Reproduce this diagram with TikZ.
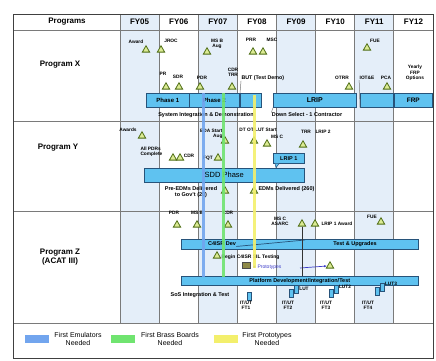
\documentclass[tikz,border=0pt]{standalone}
\usepackage{fontspec}
\setmainfont{Liberation Sans}
\usetikzlibrary{arrows.meta,shapes.geometric,positioning}

\definecolor{colshade}{HTML}{E4EEF9}
\definecolor{barblue}{HTML}{5FC2F0}
\definecolor{bardark}{HTML}{27537A}
\definecolor{msfill}{HTML}{DCEB94}
\definecolor{msdraw}{HTML}{4E6D14}
\definecolor{emublue}{HTML}{72A5EE}
\definecolor{brassgreen}{HTML}{70E470}
\definecolor{protoyellow}{HTML}{F3EF6C}
\definecolor{gridgray}{HTML}{7A7A7A}
\definecolor{protoviolet}{HTML}{3C3CC8}

\begin{document}
\begin{tikzpicture}[x=1pt,y=-1pt,
    ms/.style={regular polygon,regular polygon sides=3,draw=msdraw,fill=msfill,line width=0.8pt,minimum size=8.5pt,inner sep=0pt},
    lbl/.style={font=\fontsize{4.8}{5.3}\selectfont\bfseries,inner sep=0.3pt,align=center},
    sm/.style={font=\fontsize{5.5}{6.5}\selectfont\bfseries,inner sep=0.3pt,align=center},
    bar/.style={draw=bardark,fill=barblue,line width=0.6pt,anchor=north west,inner sep=0pt,font=\fontsize{6}{7}\selectfont\bfseries},
    prog/.style={font=\fontsize{8}{9.5}\selectfont\bfseries,align=center},
    icon/.style={draw=bardark,fill=barblue,line width=0.4pt,minimum width=4.5pt,minimum height=8pt,inner sep=0pt},
    swatch/.style={minimum width=24pt,minimum height=8pt,inner sep=0pt,anchor=north west}]
\useasboundingbox (0,0) rectangle (436,361);

% Year columns
\foreach \i in {0,2,4,6}
  \fill[colshade] (120+39.125*\i,14) rectangle (159.125+39.125*\i,323);
\foreach \i in {0,...,8}
  \draw[gridgray,line width=0.9pt] (120+39.125*\i,14) -- (120+39.125*\i,323);
\foreach \y in {30,121,211,323}
  \draw[gridgray,line width=0.9pt] (13,\y) -- (433,\y);
\draw[black!75,line width=0.9pt] (13,14) rectangle (433,358);

% Header
\node[prog] (hprog) at (67,22) {Programs};
\foreach \yr [count=\i from 0] in {FY05,FY06,FY07,FY08,FY09,FY10,FY11,FY12}
  \node[prog] (h\yr) at (139.56+39.125*\i,22) {\yr};

% Program X
\node[prog] (px) at (60,65) {Program X};
\node[ms] (xaward) at (146,50) {};
\node[lbl] (xawardl) at (136,42) {Award};
\node[ms] (xjroc) at (161,50) {};
\node[lbl] (xjrocl) at (171,41) {JROC};
\node[ms] (xmsb) at (207,52) {};
\node[lbl] (xmsbl) at (217,44) {MS B\\Aug};
\node[ms] (xprr) at (253,52) {};
\node[lbl] (xprrl) at (251,40) {PRR};
\node[ms] (xmsc) at (263,52) {};
\node[lbl] (xmscl) at (272,40) {MSC};
\node[ms] (xfue) at (367,48) {};
\node[lbl] (xfuel) at (375,41) {FUE};
\node[ms] (xpr) at (166,87) {};
\node[lbl] (xprl) at (163,74) {PR};
\node[ms] (xsdr) at (179,87) {};
\node[lbl] (xsdrl) at (178,77) {SDR};
\node[ms] (xpdr) at (200,87) {};
\node[lbl] (xpdrl) at (202,78) {PDR};
\node[ms] (xtrr) at (232,87) {};
\node[lbl] (xtrrl) at (233,72) {CDR\\TRR};
\node[lbl,anchor=west,font=\fontsize{5.3}{6}\selectfont\bfseries] (xbut) at (241,78) {BUT (Test Demo)};
\node[ms] (xotrr) at (349,87) {};
\node[lbl] (xotrrl) at (342,78) {OTRR};
\node[lbl] (xiote) at (367,78) {IOT\&E};
\node[ms] (xpca) at (387,87) {};
\node[lbl] (xpcal) at (386,78) {PCA};
\node[lbl] (xfrpopt) at (415,73) {Yearly\\FRP\\Options};

\node[bar,minimum width=43pt,minimum height=14pt] (xph1) at (146,93) {Phase 1};
\node[bar,minimum width=50pt,minimum height=14pt] (xph2) at (189,93) {Phase 2};
\node[bar,minimum width=21pt,minimum height=14pt] (xdemo) at (240,93) {};
\node[bar,minimum width=83pt,minimum height=14pt,font=\fontsize{7}{8}\selectfont\bfseries] (xlrip) at (273,93) {LRIP};
\node[bar,minimum width=33pt,minimum height=14pt] (xiot) at (360,93) {};
\node[bar,minimum width=38pt,minimum height=14pt,font=\fontsize{6.5}{7.5}\selectfont\bfseries] (xfrp) at (394,93) {FRP};

\node[sm] (xsdd) at (206,115) {System Integration \& Demonstration};
\node[sm] (xdsel) at (307,115) {Down Select - 1 Contractor};
\draw[gridgray,line width=0.5pt] (xbut.south west) -- (xdemo.north west);
\draw[gridgray,line width=0.5pt] (xdsel.north west) -- (xlrip.south west);
\draw[gridgray,line width=0.5pt] (xiote.south west) -- (xiot.south west);

% Program Y
\node[prog] (py) at (58,148) {Program Y};
\node[ms] (yaward) at (142,136) {};
\node[lbl] (yawardl) at (128,130) {Awards};
\node[lbl,align=left,anchor=west] (ypdrl) at (140,152) {All PDRs\\Complete};
\node[ms] (ypdr) at (173,158) {};
\node[ms] (ycdr) at (180,158) {};
\node[lbl] (ycdrl) at (189,156) {CDR};
\node[lbl,align=right,anchor=east] (yedal) at (223,134) {EDA Start\\Aug};
\node[ms] (yeda) at (225,141) {};
\node[lbl] (yfqtl) at (208,158) {FQT};
\node[ms] (yfqt) at (218,158) {};
\node[lbl] (ydtl) at (258,130) {DT OT/LUT Start};
\node[ms] (ydt) at (254,141) {};
\node[ms] (ymsc) at (267,144) {};
\node[lbl] (ymscl) at (277,137) {MS C};
\node[ms] (ytrr) at (303,145) {};
\node[lbl] (ytrrl) at (306,132) {TRR};
\node[lbl] (ylrip2) at (323,132) {LRIP 2};

\node[bar,minimum width=31pt,minimum height=10pt,font=\fontsize{5.5}{6.5}\selectfont\bfseries] (ylrip1) at (273,153) {LRIP 1};
\draw[bardark,fill=barblue,line width=0.5pt] (ylrip1.south west) ++(2,0) -- ++(1,4) -- ++(3,-4);
\node[bar,minimum width=160pt,minimum height=14pt,font=\fontsize{7.5}{8.5}\selectfont] (ysdd) at (144,168) {SDD Phase};

\node[sm] (ypreedm) at (191,192) {Pre-EDMs Delivered\\to Gov't (20)};
\node[ms] (ypre) at (225,191) {};
\node[ms] (yedm) at (254,191) {};
\node[sm,anchor=west] (yedml) at (258,189) {EDMs Delivered (260)};

% Program Z
\node[prog] (pz) at (60,257) {Program Z\\(ACAT III)};
\node[lbl] (zpdrl) at (174,213) {PDR};
\node[ms] (zpdr) at (177,225) {};
\node[lbl] (zmsbl) at (197,213) {MS B};
\node[ms] (zmsb) at (197,225) {};
\node[lbl] (zcdrl) at (228,213) {CDR};
\node[ms] (zcdr) at (228,225) {};
\node[lbl] (zmscl) at (280,221) {MS C\\ASARC};
\node[ms] (zmsc) at (302,224) {};
\node[ms] (zlrip) at (315,224) {};
\node[lbl,anchor=west] (zlripl) at (321,224) {LRIP 1 Award};
\node[lbl] (zfuel) at (372,217) {FUE};
\node[ms] (zfue) at (381,222) {};

\node[bar,minimum width=237pt,minimum height=10pt] (zcdev) at (181,239) {};
\node[sm] (zcdevl) at (222,244) {C4ISR Dev};
\node[sm] (ztest) at (355,244) {Test \& Upgrades};
\draw[bardark,line width=0.7pt] (zcdevl.south east) -- (305,240);

\node[ms] (zsil) at (217,256) {};
\node[sm,anchor=west,font=\fontsize{5}{6}\selectfont\bfseries] (zsill) at (221,257) {Begin C4ISR SIL Testing};

\node[draw=black!70,fill=olive!50!gray,minimum width=8pt,minimum height=6pt,inner sep=0pt] (zproto) at (246,265) {};
\node[sm,anchor=west,text=protoviolet,font=\fontsize{5}{6}\selectfont] (zprotol) at (252,267) {$\bullet$ Prototypes};
\node[ms] (zprotoms) at (330,266) {};
\coordinate (zarr) at (300,268);
\draw[protoviolet,line width=0.7pt,-{Latex[length=3pt]}] (zarr) -- (zprotoms.west);

\node[bar,minimum width=237pt,minimum height=9pt,font=\fontsize{5.5}{6.5}\selectfont\bfseries] (zplat) at (181,276) {Platform Development/Integration/Test};
\draw[black!80,line width=0.6pt] (zmsc.south) -- (zmsc.south |- zplat.north);

\node[sm] (zsos) at (200,295) {SoS Integration \& Test};
\node[icon] (zft1) at (249,296) {};
\node[icon] (zft2a) at (291,293) {};
\node[icon] (zft2b) at (296,289) {};
\node[lbl] (zlut1) at (304,289) {LUT};
\node[icon] (zft3a) at (331,293) {};
\node[icon] (zft3b) at (336,289) {};
\node[lbl] (zlut2) at (345,287) {LUT2};
\node[icon] (zft4a) at (377,291) {};
\node[icon] (zft4b) at (382,287) {};
\node[lbl] (zlut3) at (391,284) {LUT3};
\draw[gridgray,line width=0.5pt] (zlut1.north west) -- (zlut1.north west |- zplat.south);
\foreach \x/\n in {246/1,288/2,326/3,368/4}
  \node[lbl] (zit\n) at (\x,305) {IT/UT\\FT\n};

% Need lines
\coordinate (emutop) at (203,93);
\coordinate (emubot) at (203,277);
\coordinate (brasstop) at (223,93);
\coordinate (brassbot) at (223,277);
\coordinate (prototop) at (254,95);
\coordinate (protobot) at (254,268);
\draw[emublue,line width=3pt,opacity=0.9] (emutop) -- (emubot);
\draw[brassgreen,line width=3pt,opacity=0.9] (brasstop) -- (brassbot);
\draw[protoyellow,line width=3pt,opacity=0.9] (prototop) -- (protobot);

% Legend
\node[swatch,fill=emublue] (lemu) at (25,335) {};
\node[swatch,fill=brassgreen] (lbrass) at (111,335) {};
\node[swatch,fill=protoyellow] (lproto) at (214,335) {};
\node[font=\fontsize{7}{8}\selectfont,align=center,inner sep=0pt] (lemut) at (78,339) {First Emulators\\Needed};
\node[font=\fontsize{7}{8}\selectfont,align=center,inner sep=0pt] (lbrasst) at (170,339) {First Brass Boards\\Needed};
\node[font=\fontsize{7}{8}\selectfont,align=center,inner sep=0pt] (lprotot) at (267,339) {First Prototypes\\Needed};
\end{tikzpicture}
\end{document}
